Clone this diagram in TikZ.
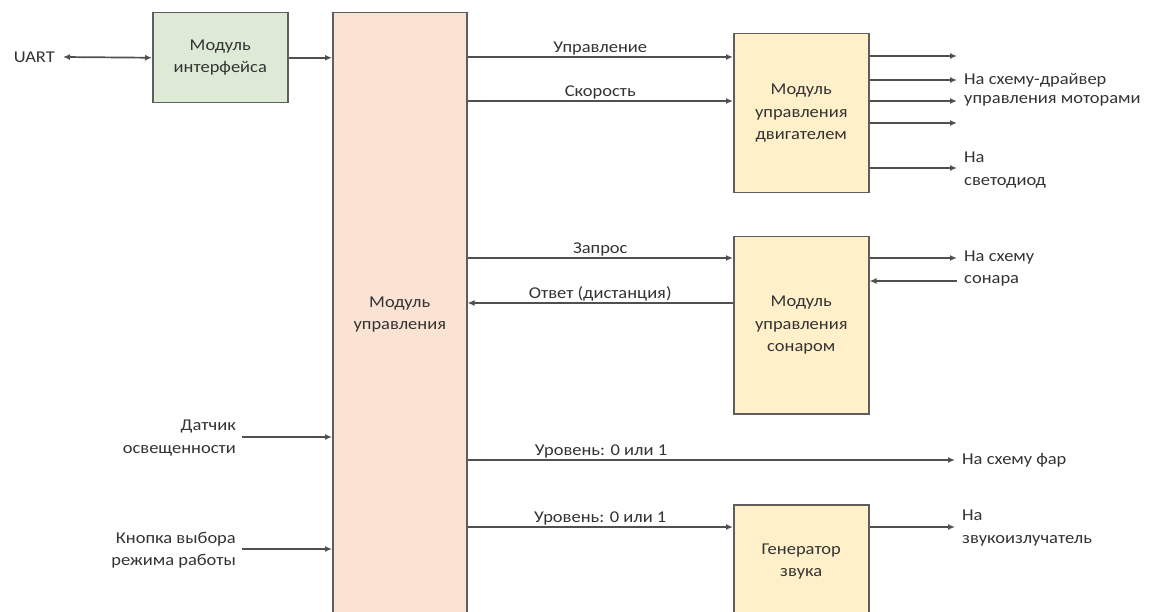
\documentclass[tikz,border=0pt]{standalone}
\usepackage{fontspec}
\setmainfont{Carlito}[FakeStretch=1.12]
\usetikzlibrary{arrows.meta}

\definecolor{boxline}{HTML}{5E5E5E}
\definecolor{wirec}{HTML}{505050}
\definecolor{txt}{HTML}{333333}
\definecolor{ifacefill}{HTML}{DDEBD6}
\definecolor{ctrlfill}{HTML}{FBE3D3}
\definecolor{unitfill}{HTML}{FFF0CA}

\newcommand\dfont{\fontsize{16.5}{22.5}\selectfont}

\tikzset{
  tipa/.tip={Latex[length=7pt,width=6pt]},
  blk/.style={draw=boxline, line width=1.5pt, rectangle, inner sep=0pt,
    anchor=north west, align=center, text=txt, font=\dfont},
  wire/.style={draw=wirec, line width=1.7pt, -tipa},
  wire2/.style={draw=wirec, line width=1.7pt, tipa-tipa},
  lbl/.style={text=txt, font=\dfont, inner ysep=0pt},
  outl/.style={lbl, anchor=west, inner xsep=7pt, align=left},
  inl/.style={lbl, anchor=east, inner xsep=6pt, align=right},
  wlbl/.style={text=txt, font=\dfont, inner sep=0pt, anchor=base, yshift=4.5pt},
}

\begin{document}
\begin{tikzpicture}[x=1pt,y=-1pt]
\useasboundingbox (0,0) rectangle (1153,612);
\fill[white] (0,0) rectangle (1153,612);
\clip (0,0) rectangle (1153,612);

% blocks
\node[blk, fill=ifacefill, minimum width=135pt, minimum height=90pt] (iface) at (152,12) {Модуль\\интерфейса};
\node[blk, fill=ctrlfill, minimum width=134pt, minimum height=604pt] (ctrl) at (332,12) {Модуль\\управления};
\node[blk, fill=unitfill, minimum width=135pt, minimum height=159pt] (motor) at (733,33) {Модуль\\управления\\двигателем};
\node[blk, fill=unitfill, minimum width=135pt, minimum height=177pt] (sonar) at (733,236) {Модуль\\управления\\сонаром};
\node[blk, fill=unitfill, minimum width=135pt, minimum height=114pt] (snd) at (733,504) {Генератор\\звука};

% outside labels
\node[lbl, anchor=east, inner xsep=8pt] (uart) at (63,57) {UART};
\node[inl] (light) at (242,438) {Датчик\\освещенности};
\node[inl] (mode) at (242,550) {Кнопка выбора\\режима работы};

\coordinate (mo1) at (957,56);
\node[outl] (mo2) at (957,80) {На схему-драйвер};
\node[outl] (mo3) at (957,101) {управления моторами};
\coordinate (mo4) at (957,123);
\node[outl] (led) at (957,170) {На\\светодиод};
\node[outl] (sout) at (957,258) {На схему};
\node[outl] (sin) at (957,281) {сонара};
\node[outl] (far) at (955,460) {На схему фар};
\node[outl] (buzz) at (955,528) {На\\звукоизлучатель};

% interface
\draw[wire2] (uart.east) -- (iface.west);
\draw[wire] (iface.east) -- (ctrl.west |- iface.east);

% motor module
\draw[wire] (ctrl.east |- 0,57) -- node[wlbl, midway] {Управление} (motor.west |- 0,57);
\draw[wire] (ctrl.east |- 0,101) -- node[wlbl, midway] {Скорость} (motor.west |- 0,101);
\draw[wire] (motor.east |- mo1) -- (mo1);
\draw[wire] (motor.east |- mo2.west) -- (mo2.west);
\draw[wire] (motor.east |- mo3.west) -- (mo3.west);
\draw[wire] (motor.east |- mo4) -- (mo4);
\draw[wire] (motor.east |- 0,168) -- (led.west |- 0,168);

% sonar module
\draw[wire] (ctrl.east |- 0,258) -- node[wlbl, midway] {Запрос} (sonar.west |- 0,258);
\draw[wire] (sonar.west |- 0,303) -- node[wlbl, midway] {Ответ (дистанция)} (ctrl.east |- 0,303);
\draw[wire] (sonar.east |- sout.west) -- (sout.west);
\draw[wire] (sin.west) -- (sonar.east |- sin.west);

% headlights and sound
\draw[wire] (ctrl.east |- 0,460) -- node[wlbl, pos=0.274] {Уровень: 0 или 1} (far.west);
\draw[wire] (ctrl.east |- 0,527) -- node[wlbl, midway] {Уровень: 0 или 1} (snd.west |- 0,527);
\draw[wire] (snd.east |- 0,527) -- (buzz.west |- 0,527);

% inputs on the left
\draw[wire] (light.east |- 0,437) -- (ctrl.west |- 0,437);
\draw[wire] (mode.east |- 0,549) -- (ctrl.west |- 0,549);
\end{tikzpicture}
\end{document}
